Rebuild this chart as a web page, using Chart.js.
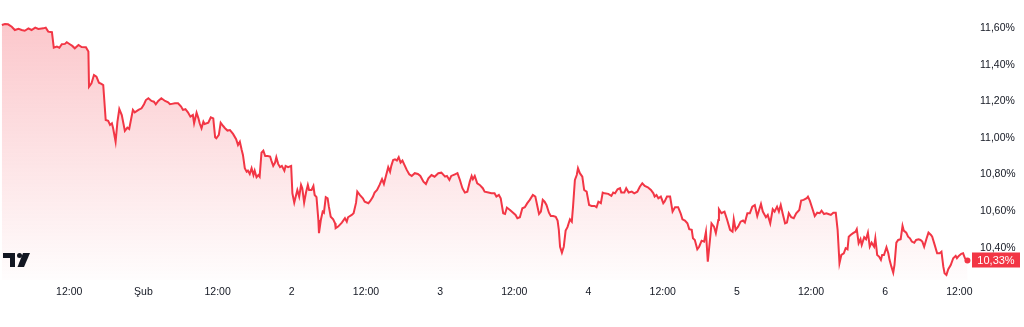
<!DOCTYPE html>
<html lang="tr">
  <head>
    <meta charset="UTF-8" />
    <title>Faiz grafiği</title>
    <style>
      html, body { margin: 0; padding: 0; background: #ffffff; }
      #wrap { width: 1024px; height: 327px; }
    </style>
  </head>
  <body>
    <div id="wrap"><canvas id="rateChart"></canvas></div>
  </body>
  <script src="https://cdn.jsdelivr.net/npm/chart.js@4"></script>
  <script>
    // hours since 1 Feb 00:00, and the rate in %
    const hours = [
      -22.9, -22.4, -21.9, -21.3, -20.8, -20.2, -19.7, -19.2, -18.6, -18.1,
      -17.5, -17.0, -16.2, -15.8, -15.4, -14.8, -14.5, -14.0, -13.6, -13.2,
      -12.7, -12.4, -11.9, -11.5, -11.1, -10.5, -10.0, -9.3, -8.9, -8.8,
      -8.4, -8.0, -7.6, -7.2, -6.8, -6.5, -6.1, -5.7, -5.4, -5.1,
      -4.9, -4.5, -4.2, -3.9, -3.5, -3.0, -2.6, -2.3, -1.7, -1.4,
      -0.8, -0.3, 0.1, 0.4, 0.8, 1.3, 1.7, 2.0, 2.4, 2.9,
      3.5, 4.0, 4.3, 4.6, 5.1, 5.6, 6.1, 6.4, 6.8, 7.2,
      7.6, 8.0, 8.2, 8.6, 8.9, 9.1, 9.4, 9.7, 9.9, 10.5,
      10.9, 11.3, 11.6, 11.8, 12.2, 12.5, 12.9, 13.2, 13.6, 14.0,
      14.5, 15.0, 15.3, 15.6, 15.9, 16.1, 16.4, 16.7, 16.9, 17.2,
      17.5, 17.8, 18.0, 18.3, 18.6, 18.8, 19.1, 19.4, 19.7, 20.1,
      20.5, 20.7, 21.0, 21.3, 21.5, 21.8, 22.1, 22.4, 22.8, 23.0,
      23.4, 23.9, 24.1, 24.4, 24.7, 24.9, 25.2, 25.5, 25.7, 26.0,
      26.3, 26.6, 26.8, 27.2, 27.5, 27.7, 28.0, 28.3, 28.4, 28.7,
      29.0, 29.2, 29.5, 29.8, 30.0, 30.3, 30.7, 31.0, 31.1, 31.5,
      32.1, 32.6, 32.9, 33.1, 33.7, 34.0, 34.4, 34.6, 35.0, 35.5,
      35.8, 36.4, 36.7, 37.1, 37.4, 37.8, 38.2, 38.6, 38.9, 39.2,
      39.6, 39.9, 40.1, 40.4, 40.7, 41.0, 41.3, 41.6, 41.9, 42.3,
      42.6, 43.0, 43.4, 43.9, 44.4, 44.8, 45.3, 45.7, 46.1, 46.6,
      47.1, 47.7, 48.2, 48.8, 49.1, 49.5, 49.8, 50.4, 50.8, 51.2,
      51.6, 52.0, 52.4, 52.8, 53.1, 53.3, 53.6, 54.0, 54.4, 54.9,
      55.2, 55.8, 56.3, 56.8, 57.1, 57.5, 57.8, 58.2, 58.5, 58.8,
      59.3, 59.8, 60.2, 60.5, 60.9, 61.3, 61.7, 62.1, 62.5, 63.0,
      63.4, 63.8, 64.0, 64.3, 64.6, 64.9, 65.2, 65.6, 65.9, 66.3,
      66.7, 67.0, 67.2, 67.4, 67.7, 68.0, 68.3, 68.6, 69.0, 69.3,
      69.5, 69.8, 70.1, 70.3, 70.6, 71.0, 71.3, 71.7, 72.1, 72.5,
      73.0, 73.3, 73.6, 74.0, 74.3, 74.6, 75.2, 75.7, 76.0, 76.3,
      76.7, 77.1, 77.3, 77.8, 78.1, 78.5, 79.0, 79.4, 79.9, 80.3,
      80.7, 81.1, 81.6, 82.1, 82.5, 82.7, 83.0, 83.3, 83.7, 84.1,
      84.3, 84.7, 85.2, 85.6, 86.0, 86.5, 86.9, 87.2, 87.6, 88.0,
      88.3, 88.7, 88.9, 89.2, 89.6, 89.9, 90.3, 90.7, 91.0, 91.3,
      91.7, 91.9, 92.3, 92.6, 93.0, 93.1, 93.5, 94.0, 94.4, 94.9,
      95.3, 95.5, 95.8, 96.2, 96.6, 97.0, 97.3, 97.7, 98.1, 98.5,
      98.9, 99.3, 99.6, 99.9, 100.2, 100.7, 101.0, 101.4, 101.8, 102.1,
      102.5, 102.8, 103.1, 103.4, 103.8, 104.1, 104.4, 104.8, 105.2, 105.6,
      106.1, 106.4, 106.8, 107.3, 107.5, 107.8, 108.2, 108.6, 109.0, 109.4,
      109.7, 110.1, 110.5, 110.8, 111.2, 111.6, 112.0, 112.3, 112.6, 112.9,
      113.3, 113.6, 113.9, 114.1, 114.4, 114.8, 115.2, 115.4, 115.7, 116.0,
      116.2, 116.6, 116.9, 117.2, 117.5, 117.8, 118.2, 118.4, 118.7, 119.0,
      119.3, 119.5, 119.8, 120.2, 120.5, 120.7, 121.0, 121.3, 121.5, 121.8,
      122.1, 122.5, 122.8, 123.0, 123.4, 123.7, 124.0, 124.3, 124.7, 125.0,
      125.4, 125.7, 126.0, 126.3, 126.7, 127.0, 127.4, 127.6, 128.0, 128.4,
      128.8, 129.1, 129.4, 129.6, 129.9, 130.2, 130.6, 131.0, 131.4, 131.6,
      131.9, 132.3, 132.6, 132.9, 133.3,
    ];
    const rates = [
      11.617, 11.623, 11.621, 11.608, 11.590, 11.596, 11.590, 11.586, 11.599, 11.590,
      11.603, 11.596, 11.599, 11.603, 11.581, 11.578, 11.493, 11.499, 11.493, 11.512,
      11.514, 11.523, 11.512, 11.503, 11.490, 11.508, 11.497, 11.496, 11.472, 11.280,
      11.299, 11.344, 11.335, 11.302, 11.295, 11.289, 11.098, 11.093, 11.071, 11.080,
      11.053, 10.979, 11.089, 11.158, 11.125, 11.038, 11.056, 11.049, 11.153, 11.140,
      11.153, 11.162, 11.184, 11.207, 11.217, 11.202, 11.198, 11.184, 11.202, 11.217,
      11.202, 11.195, 11.184, 11.186, 11.189, 11.189, 11.171, 11.153, 11.157, 11.140,
      11.116, 11.125, 11.080, 11.138, 11.107, 11.080, 11.053, 11.089, 11.076, 11.083,
      11.113, 11.107, 11.004, 10.998, 11.016, 11.083, 11.065, 11.053, 11.040, 11.043,
      11.022, 10.993, 10.961, 10.979, 10.934, 10.907, 10.834, 10.815, 10.821, 10.803,
      10.834, 10.797, 10.821, 10.785, 10.797, 10.788, 10.919, 10.930, 10.901, 10.901,
      10.898, 10.876, 10.847, 10.865, 10.894, 10.858, 10.840, 10.847, 10.821, 10.847,
      10.840, 10.847, 10.697, 10.646, 10.688, 10.715, 10.679, 10.743, 10.725, 10.646,
      10.701, 10.743, 10.715, 10.715, 10.737, 10.688, 10.676, 10.551, 10.479, 10.551,
      10.597, 10.591, 10.676, 10.670, 10.624, 10.569, 10.555, 10.533, 10.506, 10.515,
      10.537, 10.561, 10.542, 10.566, 10.579, 10.588, 10.646, 10.706, 10.688, 10.670,
      10.651, 10.643, 10.655, 10.676, 10.701, 10.715, 10.743, 10.774, 10.748, 10.788,
      10.840, 10.815, 10.847, 10.879, 10.883, 10.876, 10.894, 10.865, 10.876, 10.847,
      10.825, 10.801, 10.792, 10.807, 10.803, 10.792, 10.761, 10.748, 10.779, 10.797,
      10.788, 10.807, 10.810, 10.788, 10.792, 10.770, 10.792, 10.801, 10.807, 10.770,
      10.725, 10.701, 10.706, 10.761, 10.792, 10.774, 10.792, 10.752, 10.743, 10.725,
      10.706, 10.701, 10.697, 10.697, 10.679, 10.688, 10.670, 10.588, 10.584, 10.619,
      10.606, 10.591, 10.579, 10.561, 10.566, 10.615, 10.621, 10.643, 10.661, 10.688,
      10.679, 10.615, 10.584, 10.597, 10.661, 10.651, 10.633, 10.591, 10.573, 10.573,
      10.569, 10.548, 10.497, 10.405, 10.373, 10.405, 10.493, 10.512, 10.555, 10.542,
      10.624, 10.770, 10.797, 10.834, 10.807, 10.788, 10.715, 10.706, 10.633, 10.628,
      10.628, 10.621, 10.651, 10.643, 10.701, 10.697, 10.694, 10.683, 10.701, 10.697,
      10.719, 10.725, 10.701, 10.701, 10.725, 10.701, 10.706, 10.697, 10.706, 10.733,
      10.752, 10.737, 10.730, 10.715, 10.697, 10.679, 10.688, 10.670, 10.679, 10.643,
      10.651, 10.679, 10.679, 10.597, 10.621, 10.621, 10.588, 10.555, 10.548, 10.533,
      10.501, 10.497, 10.451, 10.442, 10.391, 10.405, 10.438, 10.433, 10.487, 10.323,
      10.460, 10.533, 10.515, 10.479, 10.551, 10.610, 10.588, 10.597, 10.555, 10.497,
      10.487, 10.555, 10.497, 10.515, 10.542, 10.548, 10.537, 10.588, 10.588, 10.624,
      10.633, 10.573, 10.606, 10.639, 10.597, 10.566, 10.579, 10.533, 10.610, 10.597,
      10.624, 10.597, 10.633, 10.588, 10.533, 10.537, 10.588, 10.566, 10.561, 10.588,
      10.606, 10.657, 10.661, 10.670, 10.679, 10.657, 10.615, 10.573, 10.591, 10.588,
      10.602, 10.584, 10.588, 10.584, 10.579, 10.591, 10.591, 10.497, 10.315, 10.360,
      10.369, 10.397, 10.391, 10.460, 10.469, 10.479, 10.487, 10.501, 10.424, 10.446,
      10.415, 10.457, 10.446, 10.482, 10.405, 10.427, 10.405, 10.451, 10.360, 10.351,
      10.333, 10.360, 10.360, 10.402, 10.369, 10.333, 10.296, 10.263, 10.305, 10.427,
      10.442, 10.446, 10.519, 10.493, 10.482, 10.460, 10.451, 10.433, 10.427, 10.442,
      10.446, 10.442, 10.433, 10.405, 10.451, 10.482, 10.469, 10.460, 10.415, 10.369,
      10.369, 10.378, 10.296, 10.260, 10.251, 10.282, 10.305, 10.342, 10.355, 10.342,
      10.355, 10.366, 10.369, 10.342, 10.330,
    ];
    const xTickHours = [-12, 0, 12, 24, 36, 48, 60, 72, 84, 96, 108, 120, 132];
    const xTickLabels = ["12:00", "Şub", "12:00", "2", "12:00", "3", "12:00", "4", "12:00", "5", "12:00", "6", "12:00"];
    const yTicks = [10.4, 10.6, 10.8, 11.0, 11.2, 11.4, 11.6];

    const RED = "#f23645";
    const TEXT = "#131722";
    const fmtPct = (v) => v.toFixed(2).replace(".", ",") + "%";
    const lastIdx = rates.length - 1;

    Chart.defaults.font.family = "'Liberation Sans', Arial, sans-serif";
    Chart.defaults.font.size = 10.5;
    Chart.defaults.color = TEXT;

    // last value badge + logo
    const extras = {
      id: "extras",
      afterDraw(chart) {
        const c = chart.ctx;
        const area = chart.chartArea;
        const y = Math.round(chart.scales.y.getPixelForValue(rates[lastIdx]));
        c.save();
        c.fillStyle = RED;
        c.fillRect(area.right - 1, y - 7.5, 48, 15);
        c.fillStyle = "#ffffff";
        c.font = "11px 'Liberation Sans', Arial, sans-serif";
        c.textAlign = "center";
        c.textBaseline = "middle";
        c.fillText(fmtPct(rates[lastIdx]), area.right + 23, y + 0.5);

        c.fillStyle = TEXT;
        c.fillRect(3, 253, 12, 5);
        c.fillRect(10, 253, 5, 14);
        c.beginPath();
        c.arc(19.5, 255.5, 2.5, 0, Math.PI * 2);
        c.fill();
        c.beginPath();
        c.moveTo(23, 253);
        c.lineTo(30, 253);
        c.lineTo(24, 267);
        c.lineTo(17.5, 267);
        c.closePath();
        c.fill();
        c.restore();
      },
    };

    const ctx = document.getElementById("rateChart");
    window.chart = new Chart(ctx, {
      type: "line",
      data: {
        datasets: [
          {
            data: hours.map((h, i) => ({ x: h, y: rates[i] })),
            borderColor: RED,
            borderWidth: 2,
            tension: 0,
            fill: "start",
            backgroundColor: (c) => {
              const area = c.chart.chartArea;
              if (!area) return "rgba(242, 54, 69, 0.15)";
              const g = c.chart.ctx.createLinearGradient(0, area.top, 0, area.bottom);
              g.addColorStop(0, "rgba(242, 54, 69, 0.3)");
              g.addColorStop(1, "rgba(242, 54, 69, 0.01)");
              return g;
            },
            pointRadius: (c) => (c.dataIndex === lastIdx ? 3 : 0),
            pointBackgroundColor: RED,
            pointBorderWidth: 0,
          },
        ],
      },
      options: {
        responsive: true,
        maintainAspectRatio: false,
        animation: false,
        layout: { padding: 0, autoPadding: false },
        plugins: { legend: { display: false }, tooltip: { enabled: false } },
        scales: {
          x: {
            type: "linear",
            min: -23.2,
            max: 134.2,
            grid: { display: false, drawTicks: false },
            border: { display: false },
            afterFit: (axis) => {
              axis.height = 47;
              axis.paddingLeft = 0;
              axis.paddingRight = 0;
            },
            afterBuildTicks: (axis) => { axis.ticks = xTickHours.map((v) => ({ value: v })); },
            ticks: {
              padding: 6,
              maxRotation: 0,
              autoSkip: false,
              callback: (v) => xTickLabels[xTickHours.indexOf(v)],
            },
          },
          y: {
            position: "right",
            min: 10.223,
            max: 11.754,
            grid: { display: false, drawTicks: false },
            border: { display: false },
            afterFit: (axis) => {
              axis.width = 51;
              axis.paddingTop = 0;
              axis.paddingBottom = 0;
            },
            afterBuildTicks: (axis) => { axis.ticks = yTicks.map((v) => ({ value: v })); },
            ticks: {
              padding: 7,
              crossAlign: "near",
              callback: (v) => fmtPct(v),
            },
          },
        },
      },
      plugins: [extras],
    });
  </script>
</html>
